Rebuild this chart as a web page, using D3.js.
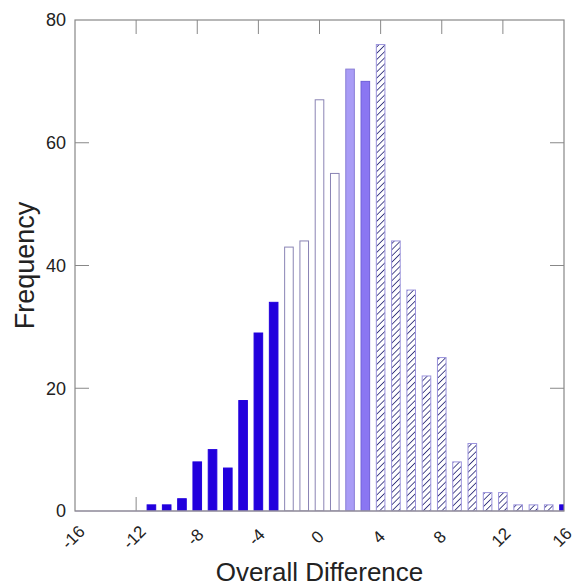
<!DOCTYPE html>
<html>
<head>
<meta charset="utf-8">
<script src="https://cdn.jsdelivr.net/npm/d3@7"></script>
<style>
  body { margin: 0; background: #fff; }
  text { font-family: "Liberation Sans", Arial, sans-serif; fill: #222; }
</style>
</head>
<body>
<svg id="chart" width="576" height="588"></svg>
<script>
// bin centres and counts, grouped by how the bar is drawn
let blueBins = [-11, -10, -9, -8, -7, -6, -5, -4, -3, 16];
let blueCounts = [1, 1, 2, 8, 10, 7, 18, 29, 34, 1];
let whiteBins = [-2, -1, 0, 1];
let whiteCounts = [43, 44, 67, 55];
let lightBins = [2];
let lightCounts = [72];
let mediumBins = [3];
let mediumCounts = [70];
let hatchBins = [4, 5, 6, 7, 8, 9, 10, 11, 12, 13, 14, 15];
let hatchCounts = [76, 44, 36, 22, 25, 8, 11, 3, 3, 1, 1, 1];

let xTicks = [-16, -12, -8, -4, 0, 4, 8, 12, 16];
let yTicks = [0, 20, 40, 60, 80];

let margin = {left: 75, top: 20, right: 12, bottom: 77};
let width = 576, height = 588;
let svg = d3.select("#chart");

let x = d3.scaleLinear().domain([-16, 16]).range([margin.left, width - margin.right]);
let y = d3.scaleLinear().domain([0, 80]).range([height - margin.bottom, margin.top]);
let barW = 8.6;
let tickLen = 14;

let defs = svg.append("defs");
defs.append("clipPath").attr("id", "plotClip")
    .append("rect")
    .attr("x", x(-16)).attr("y", y(80))
    .attr("width", x(16) - x(-16)).attr("height", y(0) - y(80));
let pat = defs.append("pattern")
    .attr("id", "hatch")
    .attr("patternUnits", "userSpaceOnUse")
    .attr("width", 4.4).attr("height", 4.4)
    .attr("patternTransform", "rotate(45)");
pat.append("rect").attr("width", 4.4).attr("height", 4.4).attr("fill", "#fff");
pat.append("line")
    .attr("x1", 0).attr("y1", 0).attr("x2", 0).attr("y2", 4.4)
    .attr("stroke", "#30307a").attr("stroke-width", 1.7);

// inward ticks on all four sides
let ticks = svg.append("g").attr("stroke", "#888").attr("stroke-width", 1);
xTicks.slice(1, -1).forEach(function (t) {
    ticks.append("line").attr("x1", x(t)).attr("x2", x(t)).attr("y1", y(0)).attr("y2", y(0) - tickLen);
    ticks.append("line").attr("x1", x(t)).attr("x2", x(t)).attr("y1", y(80)).attr("y2", y(80) + tickLen);
});
yTicks.slice(1, -1).forEach(function (t) {
    ticks.append("line").attr("x1", x(-16)).attr("x2", x(-16) + tickLen).attr("y1", y(t)).attr("y2", y(t));
    ticks.append("line").attr("x1", x(16)).attr("x2", x(16) - tickLen).attr("y1", y(t)).attr("y2", y(t));
});

function drawBars(bins, counts, fill, stroke) {
    let data = bins.map(function (b, i) { return {bin: b, count: counts[i]}; });
    svg.append("g").attr("clip-path", "url(#plotClip)")
        .selectAll("rect").data(data)
        .enter().append("rect")
        .attr("x", function (d) { return x(d.bin) - barW / 2; })
        .attr("y", function (d) { return y(d.count); })
        .attr("width", barW)
        .attr("height", function (d) { return y(0) - y(d.count); })
        .attr("fill", fill)
        .attr("stroke", stroke)
        .attr("stroke-width", 1);
}

drawBars(blueBins, blueCounts, "#2200dd", "#2200dd");
drawBars(whiteBins, whiteCounts, "#fff", "#8a84b4");
drawBars(lightBins, lightCounts, "#a99cf6", "#8a7fd6");
drawBars(mediumBins, mediumCounts, "#8a76f2", "#6f5fd8");
drawBars(hatchBins, hatchCounts, "url(#hatch)", "#9a92dc");

// bar baseline
svg.append("line")
    .attr("x1", x(-16)).attr("x2", x(16)).attr("y1", y(0)).attr("y2", y(0))
    .attr("stroke", "#b8a8e0").attr("stroke-width", 1);

// frame
svg.append("rect")
    .attr("x", x(-16)).attr("y", y(80))
    .attr("width", x(16) - x(-16)).attr("height", y(0) - y(80))
    .attr("fill", "none").attr("stroke", "#888").attr("stroke-width", 1.2);

// y tick labels
svg.append("g").selectAll("text").data(yTicks)
    .enter().append("text")
    .attr("x", x(-16) - 9)
    .attr("y", function (d) { return y(d); })
    .attr("dy", "0.35em")
    .attr("text-anchor", "end")
    .attr("font-size", 18)
    .text(function (d) { return d; });

// x tick labels, rotated
svg.append("g").selectAll("text").data(xTicks)
    .enter().append("text")
    .attr("transform", function (d) { return "translate(" + (x(d) - 2) + "," + (y(0) + 26) + ") rotate(-45)"; })
    .attr("dy", "0.35em")
    .attr("text-anchor", "middle")
    .attr("font-size", 17)
    .text(function (d) { return d; });

svg.append("text")
    .attr("x", (x(-16) + x(16)) / 2)
    .attr("y", 581)
    .attr("text-anchor", "middle")
    .attr("font-size", 26)
    .text("Overall Difference");

svg.append("text")
    .attr("transform", "translate(34," + ((y(0) + y(80)) / 2) + ") rotate(-90)")
    .attr("text-anchor", "middle")
    .attr("font-size", 27)
    .text("Frequency");
</script>
</body>
</html>
